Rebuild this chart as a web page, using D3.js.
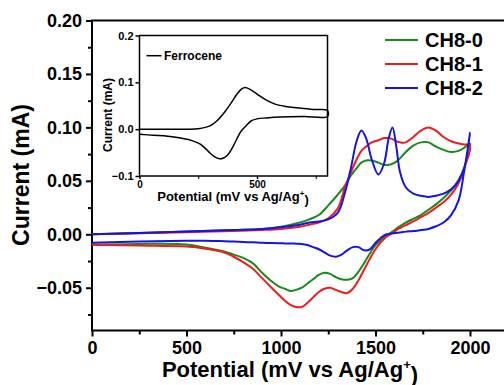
<!DOCTYPE html>
<html lang="en">
<head>
    <meta charset="UTF-8">
    <title>CV curves CH8</title>
    <style>
        body { margin: 0; background: #fff; }
        svg { display: block; font-family: "Liberation Sans", Arial, sans-serif; font-weight: bold; }
        .axis path, .axis line { stroke: #000; }
        .axis text { fill: #000; font-weight: bold; }
    </style>
    <script src="https://d3js.org/d3.v7.min.js"></script>
</head>
<body>
    <svg width="504" height="385"></svg>
    <script>
        // main chart data (potential in mV, current in mA)
        const fwdPotential = [0, 250, 500, 750, 900, 1000, 1100, 1150, 1200, 1250, 1300, 1340, 1370, 1400, 1425, 1450, 1480, 1515, 1545, 1570, 1590, 1610, 1630, 1660, 1700, 1740, 1780, 1820, 1860, 1900, 1940, 1970, 2000];
        const revPotential = [2000, 1970, 1940, 1900, 1860, 1820, 1780, 1740, 1700, 1660, 1620, 1590, 1560, 1530, 1500, 1470, 1440, 1410, 1380, 1350, 1320, 1290, 1260, 1230, 1200, 1170, 1140, 1110, 1080, 1050, 1020, 990, 950, 900, 850, 800, 750, 700, 600, 500, 250, 0];

        const ch80Fwd = [0.000, 0.0013, 0.0026, 0.004, 0.005, 0.007, 0.011, 0.014, 0.018, 0.027, 0.037, 0.046, 0.055, 0.062, 0.067, 0.069, 0.069, 0.067, 0.065, 0.065, 0.066, 0.068, 0.071, 0.077, 0.083, 0.086, 0.086, 0.082, 0.079, 0.077, 0.078, 0.081, 0.085];
        const ch80Rev = [0.085, 0.063, 0.051, 0.041, 0.034, 0.028, 0.023, 0.018, 0.0145, 0.011, 0.0065, 0.0026, -0.001, -0.005, -0.010, -0.018, -0.027, -0.035, -0.041, -0.0425, -0.042, -0.040, -0.037, -0.036, -0.038, -0.042, -0.046, -0.050, -0.052, -0.053, -0.051, -0.049, -0.044, -0.036, -0.027, -0.022, -0.019, -0.016, -0.0125, -0.0095, -0.009, -0.0098];

        const ch81Fwd = [0.000, 0.001, 0.002, 0.003, 0.004, 0.005, 0.007, 0.009, 0.011, 0.015, 0.024, 0.045, 0.058, 0.070, 0.078, 0.082, 0.086, 0.088, 0.090, 0.090, 0.089, 0.087, 0.086, 0.086, 0.091, 0.097, 0.100, 0.097, 0.091, 0.087, 0.085, 0.084, 0.083];
        const ch81Rev = [0.083, 0.062, 0.048, 0.037, 0.030, 0.025, 0.020, 0.016, 0.012, 0.0085, 0.005, 0.001, -0.002, -0.007, -0.014, -0.023, -0.033, -0.043, -0.051, -0.055, -0.054, -0.052, -0.050, -0.051, -0.054, -0.059, -0.064, -0.068, -0.068, -0.066, -0.062, -0.057, -0.050, -0.041, -0.032, -0.026, -0.021, -0.017, -0.0135, -0.0115, -0.0105, -0.0098];

        const ch82Fwd = [0.000, 0.0013, 0.0026, 0.004, 0.005, 0.0065, 0.009, 0.011, 0.012, 0.014, 0.020, 0.040, 0.062, 0.087, 0.097, 0.090, 0.070, 0.056, 0.066, 0.090, 0.100, 0.082, 0.058, 0.044, 0.038, 0.036, 0.035, 0.036, 0.038, 0.042, 0.050, 0.062, 0.095];
        const ch82Rev = [0.095, 0.060, 0.032, 0.018, 0.011, 0.0075, 0.005, 0.004, 0.003, 0.0025, 0.0015, 0.001, 0.000, -0.003, -0.008, -0.014, -0.015, -0.012, -0.012, -0.015, -0.019, -0.021, -0.020, -0.017, -0.014, -0.012, -0.010, -0.009, -0.0088, -0.0086, -0.0085, -0.0084, -0.0082, -0.008, -0.0075, -0.0072, -0.0068, -0.0065, -0.006, -0.006, -0.0068, -0.008];

        const seriesNames = ["CH8-0", "CH8-1", "CH8-2"];
        const seriesColors = ["#1a8a1a", "#ee1c1c", "#1414e6"];

        const xTicks = [0, 500, 1000, 1500, 2000];
        const yTicks = [-0.05, 0.00, 0.05, 0.10, 0.15, 0.20];

        // inset data (ferrocene)
        const fcFwdPotential = [0, 100, 200, 250, 300, 330, 360, 390, 415, 435, 450, 470, 500, 540, 580, 630, 680, 740, 800];
        const fcFwdCurrent = [0.000, 0.000, 0.000, 0.001, 0.007, 0.018, 0.035, 0.056, 0.075, 0.086, 0.089, 0.085, 0.075, 0.062, 0.053, 0.048, 0.045, 0.042, 0.040];
        const fcRevPotential = [800, 700, 600, 540, 500, 476, 455, 433, 415, 395, 375, 355, 340, 320, 300, 280, 255, 220, 175, 120, 60, 0];
        const fcRevCurrent = [0.027, 0.027, 0.026, 0.024, 0.022, 0.018, 0.008, -0.004, -0.020, -0.040, -0.055, -0.062, -0.063, -0.059, -0.051, -0.041, -0.031, -0.024, -0.019, -0.015, -0.013, -0.011];

        const insetXTicks = [0, 500];
        const insetYTicks = [-0.1, 0.0, 0.1, 0.2];

        const svg = d3.select("svg");

        // main scales
        const x = d3.scaleLinear().domain([0, 2200]).range([92, 507.8]);
        const y = d3.scaleLinear().domain([-0.09, 0.20]).range([330.5, 20.5]);

        // frame
        svg.append("rect")
            .attr("x", x(0)).attr("y", y(0.20))
            .attr("width", x(2200) - x(0)).attr("height", y(-0.09) - y(0.20))
            .attr("fill", "none").attr("stroke", "#000").attr("stroke-width", 2);

        // minor ticks
        svg.append("g").attr("class", "axis")
            .attr("transform", `translate(0,${y(-0.09)})`)
            .call(d3.axisBottom(x).tickValues(d3.range(250, 2200, 500)).tickSize(4).tickFormat(""))
            .call(g => g.select(".domain").remove())
            .selectAll("line").attr("stroke-width", 2);
        svg.append("g").attr("class", "axis")
            .attr("transform", `translate(${x(0)},0)`)
            .call(d3.axisLeft(y).tickValues([-0.075, -0.025, 0.025, 0.075, 0.125, 0.175]).tickSize(4).tickFormat(""))
            .call(g => g.select(".domain").remove())
            .selectAll("line").attr("stroke-width", 2);

        // major axes
        const xAxis = svg.append("g").attr("class", "axis")
            .attr("transform", `translate(0,${y(-0.09)})`)
            .call(d3.axisBottom(x).tickValues(xTicks).tickSize(6).tickPadding(5).tickFormat(d3.format("d")));
        xAxis.select(".domain").remove();
        xAxis.selectAll("line").attr("stroke-width", 2);
        xAxis.selectAll("text").style("font-size", "18px");

        const yAxis = svg.append("g").attr("class", "axis")
            .attr("transform", `translate(${x(0)},0)`)
            .call(d3.axisLeft(y).tickValues(yTicks).tickSize(6).tickPadding(4).tickFormat(d3.format(".2f")));
        yAxis.select(".domain").remove();
        yAxis.selectAll("line").attr("stroke-width", 2);
        yAxis.selectAll("text").style("font-size", "18px");

        // axis titles
        svg.append("text")
            .attr("transform", "translate(29,175) rotate(-90)")
            .attr("text-anchor", "middle")
            .style("font-size", "23px")
            .text("Current (mA)");

        const xTitle = svg.append("text")
            .attr("x", 290).attr("y", 377)
            .attr("text-anchor", "middle")
            .style("font-size", "22px");
        xTitle.append("tspan").text("Potential (mV vs Ag/Ag");
        xTitle.append("tspan").attr("dy", "-0.6em").style("font-size", "13px").text("+");
        xTitle.append("tspan").attr("dy", "0.6em").text(")");

        // curves
        const line = d3.line()
            .x(d => x(d[0]))
            .y(d => y(d[1]))
            .curve(d3.curveCatmullRom.alpha(0.5));

        const curveData = [
            [ch80Fwd, ch80Rev],
            [ch81Fwd, ch81Rev],
            [ch82Fwd, ch82Rev]
        ];

        curveData.forEach((c, i) => {
            const pts = fwdPotential.map((p, j) => [p, c[0][j]])
                .concat(revPotential.slice(1).map((p, j) => [p, c[1][j + 1]]));
            svg.append("path")
                .datum(pts)
                .attr("d", line)
                .attr("fill", "none")
                .attr("stroke", seriesColors[i])
                .attr("stroke-width", 2);
        });

        // legend
        const legend = svg.append("g");
        seriesNames.forEach((name, i) => {
            const ly = 40 + i * 24;
            legend.append("line")
                .attr("x1", 385).attr("x2", 418)
                .attr("y1", ly).attr("y2", ly)
                .attr("stroke", seriesColors[i]).attr("stroke-width", 2);
            legend.append("text")
                .attr("x", 425).attr("y", ly + 7)
                .style("font-size", "20px")
                .text(name);
        });

        // inset
        const ix = d3.scaleLinear().domain([0, 800]).range([139.5, 327.5]);
        const iy = d3.scaleLinear().domain([-0.1, 0.2]).range([176, 35.5]);

        svg.append("rect")
            .attr("x", ix(0)).attr("y", iy(0.2))
            .attr("width", ix(800) - ix(0)).attr("height", iy(-0.1) - iy(0.2))
            .attr("fill", "#fff").attr("stroke", "#000").attr("stroke-width", 1.5);

        svg.append("g").attr("class", "axis")
            .attr("transform", `translate(0,${iy(-0.1)})`)
            .call(d3.axisBottom(ix).tickValues([250, 750]).tickSize(3).tickFormat(""))
            .call(g => g.select(".domain").remove());

        const ixAxis = svg.append("g").attr("class", "axis")
            .attr("transform", `translate(0,${iy(-0.1)})`)
            .call(d3.axisBottom(ix).tickValues(insetXTicks).tickSize(3).tickPadding(2).tickFormat(d3.format("d")));
        ixAxis.select(".domain").remove();
        ixAxis.selectAll("line").attr("stroke-width", 1.5);
        ixAxis.selectAll("text").style("font-size", "10px");

        const iyAxis = svg.append("g").attr("class", "axis")
            .attr("transform", `translate(${ix(0)},0)`)
            .call(d3.axisLeft(iy).tickValues(insetYTicks).tickSize(4).tickPadding(2).tickFormat(d3.format(".1f")));
        iyAxis.select(".domain").remove();
        iyAxis.selectAll("line").attr("stroke-width", 1.5);
        iyAxis.selectAll("text").style("font-size", "11px");

        svg.append("text")
            .attr("transform", "translate(112,115) rotate(-90)")
            .attr("text-anchor", "middle")
            .style("font-size", "12px")
            .text("Current (mA)");

        const ixTitle = svg.append("text")
            .attr("x", 233).attr("y", 201)
            .attr("text-anchor", "middle")
            .style("font-size", "13px");
        ixTitle.append("tspan").text("Potential (mV vs Ag/Ag");
        ixTitle.append("tspan").attr("dy", "-0.6em").style("font-size", "8px").text("+");
        ixTitle.append("tspan").attr("dy", "0.6em").text(")");

        const iline = d3.line()
            .x(d => ix(d[0]))
            .y(d => iy(d[1]))
            .curve(d3.curveCatmullRom.alpha(0.5));

        const fcPts = fcFwdPotential.map((p, j) => [p, fcFwdCurrent[j]])
            .concat(fcRevPotential.map((p, j) => [p, fcRevCurrent[j]]));
        svg.append("path")
            .datum(fcPts)
            .attr("d", iline)
            .attr("fill", "none")
            .attr("stroke", "#000")
            .attr("stroke-width", 1.5);

        svg.append("line")
            .attr("x1", 146.5).attr("x2", 161.5)
            .attr("y1", 55.7).attr("y2", 55.7)
            .attr("stroke", "#000").attr("stroke-width", 1.5);
        svg.append("text")
            .attr("x", 164).attr("y", 60)
            .style("font-size", "12px")
            .text("Ferrocene");
    </script>
</body>
</html>
